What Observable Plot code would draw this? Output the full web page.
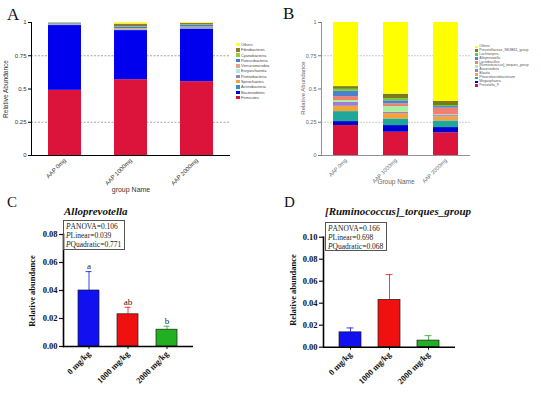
<!DOCTYPE html>
<html>
<head>
<meta charset="utf-8">
<script src="https://cdn.jsdelivr.net/npm/d3@7"></script>
<script src="https://cdn.jsdelivr.net/npm/@observablehq/plot@0.6"></script>
<style>
  html, body { margin: 0; padding: 0; background: #fff; }
  #fig { position: relative; width: 541px; height: 395px; overflow: hidden; background: #fff; }
  .abs { position: absolute; }
  .letter { font-family: "Liberation Serif", "Times New Roman", serif; line-height: 1; color: #111; }
  .sans { font-family: "Liberation Sans", Arial, sans-serif; }
  .serif { font-family: "Liberation Serif", "Times New Roman", serif; }
  .legend div { white-space: nowrap; display: flex; align-items: center; }
  .legend span.sw { display: inline-block; flex: none; }
  .pbox { border: 1px solid #555; box-sizing: border-box; font-family: "Liberation Serif", "Times New Roman", serif; color: #222; }
  .pbox div { white-space: nowrap; }
</style>
</head>
<body>
<div id="fig"></div>
<script>
// ---------- Panel A : phylum level ----------
const groupsAB = ["AAP 0mg", "AAP 1000mg", "AAP 2000mg"];
const phyla = ["Others", "Fibrobacteres", "Cyanobacteria", "Patescibacteria", "Verrucomicrobia",
  "Euryarchaeota", "Proteobacteria", "Spirochaetes", "Actinobacteria", "Bacteroidetes", "Firmicutes"];
const phylaColors = ["#ffff33", "#8c7a35", "#9acd32", "#3f7fc4", "#e9a08a", "#aeeaea",
  "#8d86b8", "#f1a33a", "#2b95c8", "#0000ee", "#dc143c"];
const phylaAAP0mg    = [0.002, 0.002, 0.001, 0.007, 0.001, 0.001, 0.004, 0.002, 0.003, 0.487, 0.490];
const phylaAAP1000mg = [0.012, 0.020, 0.002, 0.012, 0.002, 0.001, 0.005, 0.004, 0.003, 0.369, 0.570];
const phylaAAP2000mg = [0.006, 0.012, 0.002, 0.014, 0.002, 0.001, 0.006, 0.004, 0.003, 0.395, 0.555];

// ---------- Panel B : genus level ----------
const genera = ["Others", "Prevotellaceae_NK3B31_group", "Lachnospira", "Alloprevotella", "Lactobacillus",
  "[Ruminococcus]_torques_group", "Anaerovibrio", "Blautia", "Phascolarctobacterium", "Megasphaera", "Prevotella_9"];
const generaColors = ["#ffff00", "#7a7a1a", "#66cc33", "#4f7fcf", "#f08070", "#a6f0a0",
  "#9b7fd0", "#f4a23a", "#1fa89a", "#0000d0", "#dc143c"];
const generaAAP0mg    = [0.482, 0.020, 0.015, 0.040, 0.030, 0.013, 0.030, 0.040, 0.075, 0.030, 0.225];
const generaAAP1000mg = [0.539, 0.035, 0.015, 0.023, 0.020, 0.043, 0.010, 0.040, 0.050, 0.050, 0.175];
const generaAAP2000mg = [0.594, 0.030, 0.008, 0.012, 0.050, 0.006, 0.010, 0.030, 0.050, 0.040, 0.170];

// ---------- Panels C & D : single genera ----------
const doseGroups = ["0 mg/kg", "1000 mg/kg", "2000 mg/kg"];
const doseColors = ["#1010f0", "#f01010", "#22b022"];
const alloMean = [0.040, 0.023, 0.012];
const alloErr  = [0.0135, 0.005, 0.0025];
const alloLetters = ["a", "ab", "b"];
const torqMean = [0.0135, 0.043, 0.006];
const torqErr  = [0.004, 0.023, 0.0045];
const alloStats = ["ANOVA=0.106", "Linear=0.039", "Quadratic=0.771"];
const torqStats = ["ANOVA=0.166", "Linear=0.698", "Quadratic=0.068"];

const fig = document.getElementById("fig");
function place(node, left, top, width) {
  const w = document.createElement("div");
  w.className = "abs";
  w.style.left = left + "px"; w.style.top = top + "px";
  if (width) w.style.width = width + "px";
  w.appendChild(node);
  fig.appendChild(w);
  return w;
}
function html(str, cls, left, top, css) {
  const d = document.createElement("div");
  d.className = "abs " + (cls || "");
  d.style.left = left + "px"; d.style.top = top + "px";
  if (css) Object.assign(d.style, css);
  d.innerHTML = str;
  fig.appendChild(d);
  return d;
}

function stackRows(groups, names, valueLists) {
  const rows = [];
  groups.forEach((g, gi) => {
    for (let i = names.length - 1; i >= 0; i--) rows.push({group: g, taxon: names[i], value: valueLists[gi][i]});
  });
  return rows;
}

// ---- Panel A plot
const rowsA = stackRows(groupsAB, phyla, [phylaAAP0mg, phylaAAP1000mg, phylaAAP2000mg]);
const plotA = Plot.plot({
  width: 270, height: 195,
  marginLeft: 31, marginRight: 40, marginTop: 22, marginBottom: 40,
  style: {fontSize: "6px", fontFamily: "Liberation Sans, Arial, sans-serif", color: "#333", background: "transparent"},
  x: {domain: groupsAB, paddingInner: 0.5, paddingOuter: 0.25},
  y: {domain: [0, 1]},
  color: {domain: phyla, range: phylaColors},
  marks: [
    Plot.ruleY([0.25, 0.75], {stroke: "#666", strokeDasharray: "2,1.5", strokeWidth: 0.6}),
    Plot.barY(rowsA, {x: "group", y: "value", fill: "taxon", order: null}),
    Plot.axisY({ticks: [0, 0.25, 0.5, 0.75, 1], tickFormat: d => String(d), tickSize: 3, tickPadding: 2, label: null, stroke: "#000"}),
    Plot.axisX({tickRotate: -45, tickSize: 0, tickPadding: 4, label: null}),
    Plot.frame({anchor: "left", stroke: "#000", strokeWidth: 1}),
    Plot.ruleY([0], {stroke: "#000", strokeWidth: 1})
  ]
});
place(plotA, 0, 0, 270);

// ---- Panel B plot
const rowsB = stackRows(groupsAB, genera, [generaAAP0mg, generaAAP1000mg, generaAAP2000mg]);
const plotB = Plot.plot({
  width: 271, height: 195,
  marginLeft: 51, marginRight: 71, marginTop: 22, marginBottom: 40,
  style: {fontSize: "5.5px", fontFamily: "Liberation Sans, Arial, sans-serif", color: "#666", background: "transparent"},
  x: {domain: groupsAB, paddingInner: 0.5, paddingOuter: 0.24},
  y: {domain: [0, 1]},
  color: {domain: genera, range: generaColors},
  marks: [
    Plot.ruleY([0.25, 0.75], {stroke: "#aaa", strokeDasharray: "2,1", strokeWidth: 0.6}),
    Plot.barY(rowsB, {x: "group", y: "value", fill: "taxon", order: null}),
    Plot.axisY({ticks: [0, 0.25, 0.5, 0.75, 1], tickFormat: d => String(d), tickSize: 3, tickPadding: 2, label: null, stroke: "#777"}),
    Plot.axisX({tickRotate: -45, tickSize: 0, tickPadding: 4, label: null}),
    Plot.frame({anchor: "left", stroke: "#777", strokeWidth: 0.8}),
    Plot.ruleY([0], {stroke: "#777", strokeWidth: 0.8})
  ]
});
place(plotB, 270, 0, 271);

// ---- Panel C & D plots
function rowsCD(means, errs, letters) {
  return doseGroups.map((g, i) => ({group: g, mean: means[i], top: means[i] + errs[i], color: doseColors[i], letter: letters ? letters[i] : ""}));
}
function barPlot(rows, opts) {
  return Plot.plot({
    width: opts.width, height: 205,
    marginLeft: opts.ml, marginRight: opts.mr, marginTop: opts.mt, marginBottom: opts.mb,
    style: {fontSize: "8.5px", fontWeight: "bold", fontFamily: "Liberation Serif, Times New Roman, serif", color: "#111", background: "transparent"},
    x: {domain: doseGroups, paddingInner: opts.pi, paddingOuter: opts.po},
    y: {domain: opts.ydom},
    marks: [
      Plot.ruleX(rows, {x: "group", y1: "mean", y2: "top", stroke: "color", strokeWidth: 0.8}),
      Plot.tickY(rows, {x: "group", y: "top", stroke: "color", strokeWidth: 0.8, insetLeft: 7.5, insetRight: 7.5}),
      Plot.barY(rows, {x: "group", y: "mean", fill: "color", stroke: "#1a1a1a", strokeWidth: 0.7}),
      Plot.text(rows, {x: "group", y: "top", text: "letter", dy: -5, fontWeight: "normal", fontSize: 9, fill: "#222"}),
      Plot.axisY({ticks: opts.ticks, tickFormat: d3.format(".2f"), tickSize: 4, tickPadding: 2, strokeWidth: 1.2, label: null}),
      Plot.axisX({tickRotate: -45, tickSize: 3, tickPadding: 3, strokeWidth: 1, label: null}),
      Plot.frame({anchor: "left", stroke: "#000", strokeWidth: 1.6}),
      Plot.ruleY([0], {stroke: "#000", strokeWidth: 1.4})
    ]
  });
}
const plotC = barPlot(rowsCD(alloMean, alloErr, alloLetters),
  {width: 270, ml: 63, mr: 77, mt: 44, mb: 49, pi: 0.45, po: 0.38, ydom: [0, 0.08], ticks: [0, 0.02, 0.04, 0.06, 0.08]});
place(plotC, 0, 190, 270);
const plotD = barPlot(rowsCD(torqMean, torqErr, null),
  {width: 271, ml: 53, mr: 86, mt: 46.7, mb: 48.3, pi: 0.44, po: 0.41, ydom: [0, 0.10], ticks: [0, 0.02, 0.04, 0.06, 0.08, 0.10]});
place(plotD, 270, 190, 271);

// ---- legends (A and B)
function legend(names, colors, left, top, rowH, fontSize, sw, color) {
  const d = document.createElement("div");
  d.className = "abs legend sans";
  Object.assign(d.style, {left: left + "px", top: top + "px", fontSize: fontSize + "px", lineHeight: rowH + "px", color: color});
  names.forEach((n, i) => {
    const r = document.createElement("div");
    r.style.height = rowH + "px";
    r.innerHTML = `<span class="sw" style="width:${sw}px;height:${sw}px;background:${colors[i]};margin-right:1.5px"></span><span>${n.replace(/&/g,"&amp;").replace(/</g,"&lt;")}</span>`;
    d.appendChild(r);
  });
  fig.appendChild(d);
}
legend(phyla, phylaColors, 236, 42, 5.3, 3.9, 3.5, "#444");
legend(genera, generaColors, 475, 45, 3.9, 3.5, 2.8, "#555");

// ---- panel letters
html("A", "letter", 7, 6, {fontSize: "17px"});
html("B", "letter", 283, 5, {fontSize: "17px"});
html("C", "letter", 7, 195, {fontSize: "15px"});
html("D", "letter", 284, 195, {fontSize: "15px"});

// ---- axis titles A/B
html("Relative Abundance", "sans", 5, 89, {fontSize: "6.5px", color: "#333", transform: "translate(-50%,-50%) rotate(-90deg)", whiteSpace: "nowrap"});
html("group Name", "sans", 131, 186, {fontSize: "7px", color: "#333", transform: "translateX(-50%)", whiteSpace: "nowrap"});
html("Relative Abundance", "sans", 303, 88, {fontSize: "6px", color: "#666", transform: "translate(-50%,-50%) rotate(-90deg)", whiteSpace: "nowrap"});
html("Group Name", "sans", 396, 178, {fontSize: "6.5px", color: "#666", transform: "translateX(-50%)", whiteSpace: "nowrap"});

// ---- titles, y labels and stat boxes C/D
html("Alloprevotella", "serif", 64, 205, {fontSize: "11px", fontWeight: "bold", fontStyle: "italic", whiteSpace: "nowrap", color: "#111"});
html("[Ruminococcus]_torques_group", "serif", 325, 205, {fontSize: "11px", fontWeight: "bold", fontStyle: "italic", whiteSpace: "nowrap", color: "#111"});
html("Relative abundance", "serif", 32, 291, {fontSize: "8.5px", fontWeight: "bold", color: "#111", transform: "translate(-50%,-50%) rotate(-90deg)", whiteSpace: "nowrap"});
html("Relative abundance", "serif", 293, 290, {fontSize: "8.5px", fontWeight: "bold", color: "#111", transform: "translate(-50%,-50%) rotate(-90deg)", whiteSpace: "nowrap"});
function statBox(lines, left, top, w, h) {
  const inner = lines.map(s => `<div><i>P</i>${s}</div>`).join("");
  html(inner, "pbox", left, top, {width: w + "px", height: h + "px", fontSize: "7.5px", lineHeight: "9px", padding: "1px 2px"});
}
statBox(alloStats, 63, 220, 62, 30);
statBox(torqStats, 325, 222, 62, 29);
</script>
</body>
</html>
